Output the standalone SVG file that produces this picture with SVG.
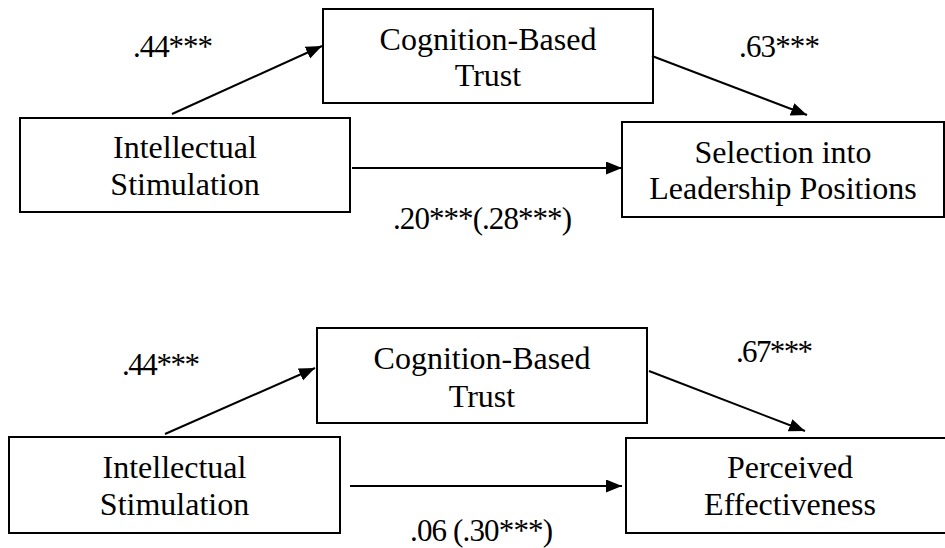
<svg xmlns="http://www.w3.org/2000/svg" width="945" height="548" viewBox="0 0 945 548">
  <style>
    .box { fill: #fff; stroke: #000; stroke-width: 2; }
    .node-text { font-family: 'Liberation Serif', 'Times New Roman', serif; font-size: 32px; fill: #000; text-anchor: middle; }
    .label { font-family: 'Liberation Serif', 'Times New Roman', serif; font-size: 31px; fill: #000; }
    .edge { stroke: #000; stroke-width: 2; fill: none; marker-end: url(#arrow); }
  </style>
  <defs>
    <marker id="arrow" markerUnits="userSpaceOnUse" markerWidth="17" markerHeight="14" refX="16" refY="6.5" orient="auto">
      <path d="M0,0 L16,6.5 L0,13 Z" fill="#000"/>
    </marker>
  </defs>
  <rect width="945" height="548" fill="#fff"/>

  <!-- Model 1: selection into leadership positions -->
  <g id="is-top">
    <rect class="box" x="20" y="118" width="330" height="94"/>
    <text class="node-text" x="185" y="158">Intellectual</text>
    <text class="node-text" x="185" y="195">Stimulation</text>
  </g>
  <g id="cbt-top">
    <rect class="box" x="323" y="9" width="330" height="94"/>
    <text class="node-text" x="488" y="50">Cognition-Based</text>
    <text class="node-text" x="488" y="86">Trust</text>
  </g>
  <g id="selection">
    <rect class="box" x="622" y="122" width="322" height="95"/>
    <text class="node-text" x="783" y="163">Selection into</text>
    <text class="node-text" x="783" y="199">Leadership Positions</text>
  </g>

  <!-- Model 2: perceived effectiveness -->
  <g id="is-bottom">
    <rect class="box" x="9" y="437" width="331" height="96"/>
    <text class="node-text" x="174.5" y="478">Intellectual</text>
    <text class="node-text" x="174.5" y="515">Stimulation</text>
  </g>
  <g id="cbt-bottom">
    <rect class="box" x="317" y="328" width="330" height="95"/>
    <text class="node-text" x="482" y="369">Cognition-Based</text>
    <text class="node-text" x="482" y="407">Trust</text>
  </g>
  <g id="effectiveness">
    <rect class="box" x="626" y="438" width="330" height="95"/>
    <text class="node-text" x="790" y="478">Perceived</text>
    <text class="node-text" x="790" y="515">Effectiveness</text>
  </g>

  <g id="connectors">
    <line class="edge" x1="172" y1="114" x2="322" y2="46"/>
    <line class="edge" x1="652" y1="56" x2="807" y2="115"/>
    <line class="edge" x1="352" y1="168" x2="622" y2="168"/>
    <line class="edge" x1="165" y1="434" x2="315" y2="368"/>
    <line class="edge" x1="649" y1="371" x2="805" y2="431"/>
    <line class="edge" x1="350" y1="486" x2="622" y2="486"/>
  </g>

  <g id="labels">
    <text class="label" x="133" y="57" textLength="80" lengthAdjust="spacing">.44***</text>
    <text class="label" x="739" y="57" textLength="81" lengthAdjust="spacing">.63***</text>
    <text class="label" x="393" y="229" textLength="179" lengthAdjust="spacing">.20***(.28***)</text>
    <text class="label" x="122" y="375" textLength="78" lengthAdjust="spacing">.44***</text>
    <text class="label" x="736" y="362" textLength="77" lengthAdjust="spacing">.67***</text>
    <text class="label" x="410" y="541" textLength="143" lengthAdjust="spacing">.06 (.30***)</text>
  </g>
</svg>
